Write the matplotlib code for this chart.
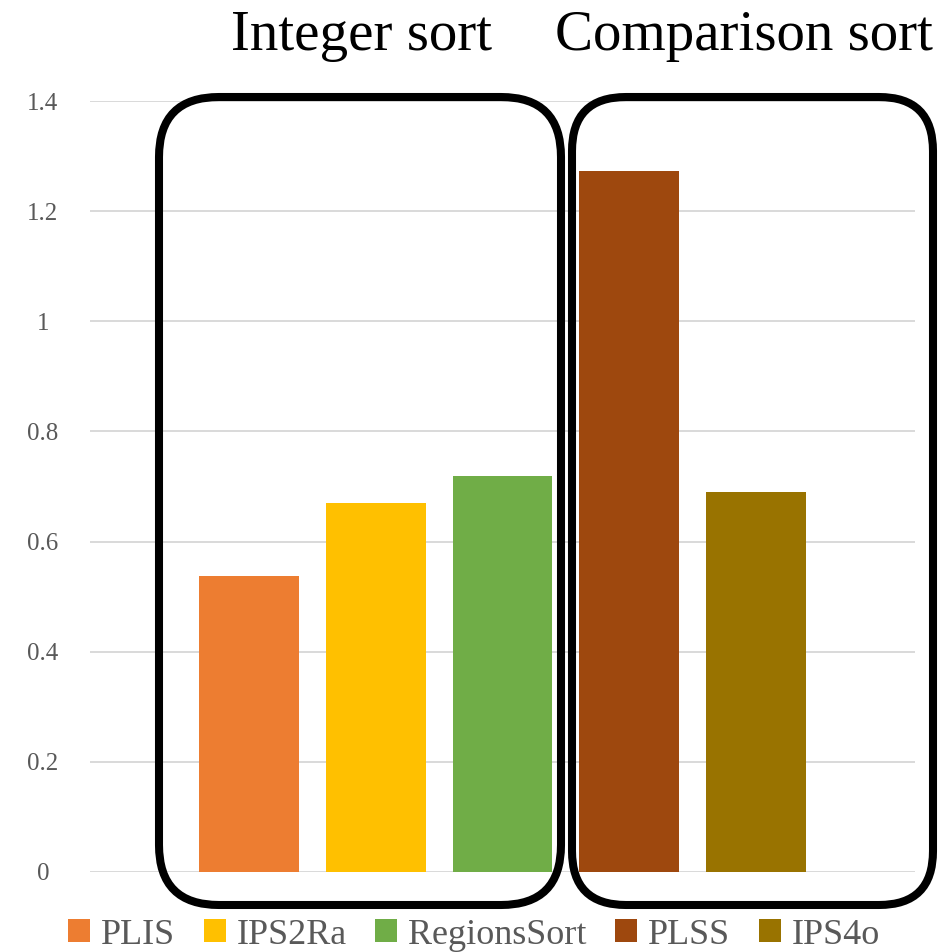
import matplotlib.pyplot as plt
from matplotlib.patches import FancyBboxPatch

plt.rcParams['font.family'] = ['Liberation Serif', 'DejaVu Serif']

# data
names = ['PLIS', 'IPS2Ra', 'RegionsSort', 'PLSS', 'IPS4o']
values = [0.537, 0.670, 0.719, 1.273, 0.690]
colors = ['#ED7D31', '#FFC000', '#70AD47', '#9E480E', '#997300']
yticks = [0, 0.2, 0.4, 0.6, 0.8, 1, 1.2, 1.4]
ytick_labels = ['0', '0.2', '0.4', '0.6', '0.8', '1', '1.2', '1.4']
group_titles = ['Integer sort', 'Comparison sort']

W, H = 953, 952
fig = plt.figure(figsize=(W / 100, H / 100), dpi=100)

# main axes, placed in pixel terms
ax = fig.add_axes([90 / W, 1 - 872 / H, (915 - 90) / W, (872 - 101) / H])
for i, (n, v, c) in enumerate(zip(names, values, colors)):
    ax.bar(i, v, width=0.787, color=c, label=n, zorder=2)

ax.set_xlim(-1.252, len(names) - 1 + 1.252)
ax.set_ylim(0, 1.4)
ax.set_yticks(yticks)
ax.set_yticklabels(ytick_labels)
ax.set_xticks([])
ax.grid(axis='y', color='#d9d9d9', linewidth=1.4, zorder=0)
ax.set_axisbelow(True)
for s in ax.spines.values():
    s.set_visible(False)
ax.tick_params(axis='y', length=0, pad=34, labelsize=18, labelcolor='#595959')
for lab in ax.get_yticklabels():
    lab.set_horizontalalignment('center')

# legend
ax.legend(loc='center', bbox_to_anchor=(474 / W, 1 - 935 / H),
          bbox_transform=fig.transFigure, ncol=5, frameon=False,
          fontsize=26, labelcolor='#595959', handlelength=0.6,
          handleheight=0.6, handletextpad=0.3, columnspacing=0.8,
          borderpad=0, borderaxespad=0)

# overlay in pixel coordinates for the group boxes and titles
ov = fig.add_axes([0, 0, 1, 1])
ov.set_xlim(0, W)
ov.set_ylim(H, 0)
ov.axis('off')
ov.patch.set_alpha(0)

boxes = [(159, 97, 402, 808, 60), (572, 97, 361, 808, 54)]
for x0, y0, bw, bh, r in boxes:
    ov.add_patch(FancyBboxPatch((x0, y0), bw, bh,
                                boxstyle=f'round,pad=0,rounding_size={r}',
                                fill=False, edgecolor='black', linewidth=5.8,
                                zorder=5))

ov.text(362, 50, group_titles[0], ha='center', va='baseline', fontsize=41)
ov.text(744, 50, group_titles[1], ha='center', va='baseline', fontsize=41)

fig.savefig('out.png', dpi=100)
